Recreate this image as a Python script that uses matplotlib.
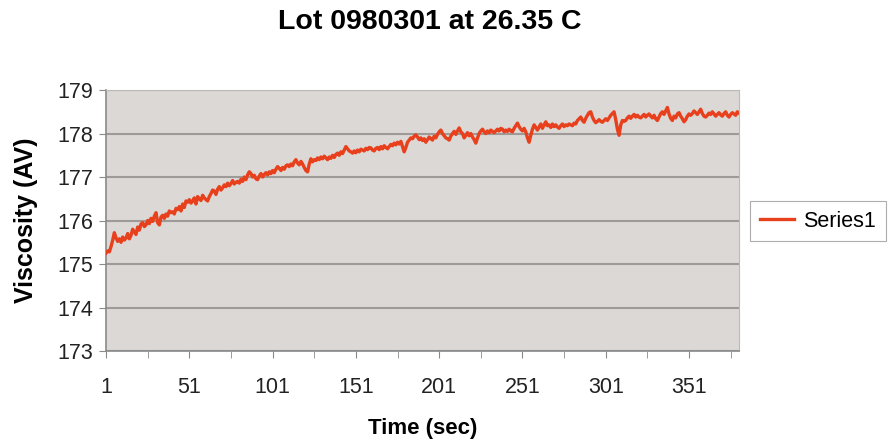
import matplotlib.pyplot as plt
import numpy as np

plt.rcParams['font.family'] = ['Liberation Sans', 'DejaVu Sans']

title = "Lot 0980301 at 26.35 C"
series_name = "Series1"
x_label = "Time (sec)"
y_label = "Viscosity (AV)"

# viscosity readings, one per second
viscosity = [
    175.25, 175.30, 175.28, 175.40, 175.55, 175.72, 175.60, 175.52, 175.58, 175.50,
    175.62, 175.55, 175.60, 175.70, 175.58, 175.66, 175.80, 175.74, 175.68, 175.85,
    175.78, 175.92, 175.95, 175.86, 175.90, 176.00, 175.93, 176.05, 175.98, 176.10,
    176.18, 175.95, 175.90, 176.08, 176.12, 176.05, 176.15, 176.10, 176.22, 176.18,
    176.20, 176.15, 176.28, 176.25, 176.32, 176.22, 176.38, 176.30, 176.45, 176.42,
    176.48, 176.40, 176.45, 176.52, 176.38, 176.55, 176.50, 176.46, 176.58, 176.52,
    176.48, 176.45, 176.55, 176.62, 176.70, 176.68, 176.60, 176.72, 176.78, 176.70,
    176.75, 176.82, 176.78, 176.86, 176.80, 176.85, 176.92, 176.84, 176.88, 176.90,
    176.86, 176.95, 176.90, 177.00, 176.94, 177.05, 177.12, 177.08, 177.00, 177.04,
    176.96, 176.94, 177.02, 177.08, 177.00, 177.06, 177.10, 177.05, 177.12, 177.08,
    177.15, 177.10, 177.18, 177.24, 177.20, 177.15, 177.22, 177.18, 177.26, 177.28,
    177.24, 177.30, 177.26, 177.35, 177.40, 177.32, 177.28, 177.36, 177.30, 177.22,
    177.15, 177.12, 177.30, 177.42, 177.35, 177.40, 177.38, 177.44, 177.40, 177.46,
    177.42, 177.48, 177.44, 177.40, 177.46, 177.43, 177.50, 177.45, 177.52, 177.55,
    177.50, 177.58, 177.54, 177.62, 177.70, 177.65, 177.60, 177.58, 177.55, 177.60,
    177.56, 177.62, 177.58, 177.64, 177.62, 177.60, 177.66, 177.63, 177.68, 177.67,
    177.62, 177.60, 177.66, 177.68, 177.63, 177.70, 177.65, 177.72, 177.68, 177.65,
    177.70, 177.75, 177.72, 177.78, 177.74, 177.80, 177.76, 177.82, 177.70, 177.58,
    177.68, 177.80, 177.85, 177.90, 177.88, 177.94, 177.97, 177.92, 177.86, 177.90,
    177.84, 177.88, 177.80, 177.86, 177.92, 177.88, 177.85, 177.94, 177.90, 177.98,
    178.04, 178.08, 178.00, 177.95, 177.90, 177.88, 177.85, 177.94, 178.00, 178.05,
    177.98, 178.06, 178.13, 178.04, 178.00, 177.90, 177.96, 178.02, 177.95, 178.00,
    177.92, 177.86, 177.78, 177.90, 178.00, 178.06, 178.10, 178.04, 178.00, 178.06,
    178.02, 178.08, 178.05, 178.02, 178.06, 178.10, 178.06, 178.12, 178.10, 178.04,
    178.08, 178.05, 178.10, 178.06, 178.04, 178.12, 178.18, 178.24, 178.16, 178.10,
    178.06, 178.12, 178.04, 177.90, 177.80, 177.96, 178.10, 178.20, 178.14, 178.08,
    178.15, 178.22, 178.12, 178.20, 178.27, 178.18, 178.20, 178.14, 178.22, 178.16,
    178.20, 178.15, 178.12, 178.18, 178.22, 178.16, 178.20, 178.18, 178.22, 178.20,
    178.18, 178.24, 178.22, 178.30, 178.34, 178.38, 178.30, 178.26, 178.35, 178.42,
    178.48, 178.50, 178.38, 178.30, 178.25, 178.28, 178.32, 178.28, 178.26, 178.30,
    178.34, 178.30, 178.36, 178.42, 178.46, 178.50, 178.32, 178.10, 177.96, 178.20,
    178.30, 178.28, 178.30, 178.36, 178.40, 178.35, 178.40, 178.44, 178.38, 178.42,
    178.38, 178.36, 178.40, 178.44, 178.38, 178.42, 178.45, 178.40, 178.36, 178.42,
    178.34, 178.30, 178.38, 178.46, 178.50, 178.44, 178.52, 178.60, 178.45, 178.35,
    178.30, 178.40, 178.36, 178.45, 178.48, 178.40, 178.34, 178.27, 178.32, 178.40,
    178.45, 178.42, 178.46, 178.52, 178.48, 178.44, 178.50, 178.56, 178.46, 178.40,
    178.38, 178.42, 178.47, 178.44, 178.50, 178.45, 178.40, 178.44, 178.48, 178.43,
    178.40, 178.46, 178.50, 178.42, 178.38, 178.44, 178.48, 178.45, 178.42, 178.50,
    178.47,
]
time_sec = np.arange(1, len(viscosity) + 1)

y_ticks = [173, 174, 175, 176, 177, 178, 179]
x_tick_labels = [1, 51, 101, 151, 201, 251, 301, 351]

fig = plt.figure(figsize=(8.88, 4.43), dpi=100)
ax = fig.add_axes([0.1194, 0.2077, 0.7128, 0.589])
ax.set_facecolor('#dcd8d5')

ax.plot(time_sec, viscosity, color='#e8401c', lw=2.4, label=series_name, zorder=3)

ax.set_xlim(1, len(viscosity))
ax.set_ylim(173, 179)
ax.set_yticks(y_ticks)
ax.set_xticks(x_tick_labels)
ax.set_xticks(np.arange(26, len(viscosity), 50), minor=True)
ax.grid(axis='y', color='#9e9a98', lw=1.5, zorder=1)

ax.tick_params(axis='both', which='both', direction='out', color='#8a8a8a',
               labelsize=15.5, labelcolor='#222222')
ax.tick_params(axis='y', length=5, pad=4)
ax.tick_params(axis='x', which='both', length=5, pad=14)

for side in ['top', 'right']:
    ax.spines[side].set_color('#bdb9b6')
    ax.spines[side].set_linewidth(0.8)
for side in ['left', 'bottom']:
    ax.spines[side].set_color('#8a8a8a')
    ax.spines[side].set_linewidth(1.2)

ax.set_xlabel(x_label, fontsize=16, fontweight='bold', labelpad=14)
ax.set_ylabel(y_label, fontsize=18, fontweight='bold', labelpad=14)
fig.text(0.484, 0.95, title, ha='center', va='center', fontsize=20.5, fontweight='bold')

leg = fig.legend(loc='center left', bbox_to_anchor=(0.845, 0.501), fontsize=15.5,
                 frameon=True, fancybox=False, handlelength=1.6, handletextpad=0.4,
                 borderpad=0.45, borderaxespad=0)
leg.get_frame().set_edgecolor('#999999')
leg.get_frame().set_linewidth(0.8)

fig.savefig('out.png', dpi=100)
